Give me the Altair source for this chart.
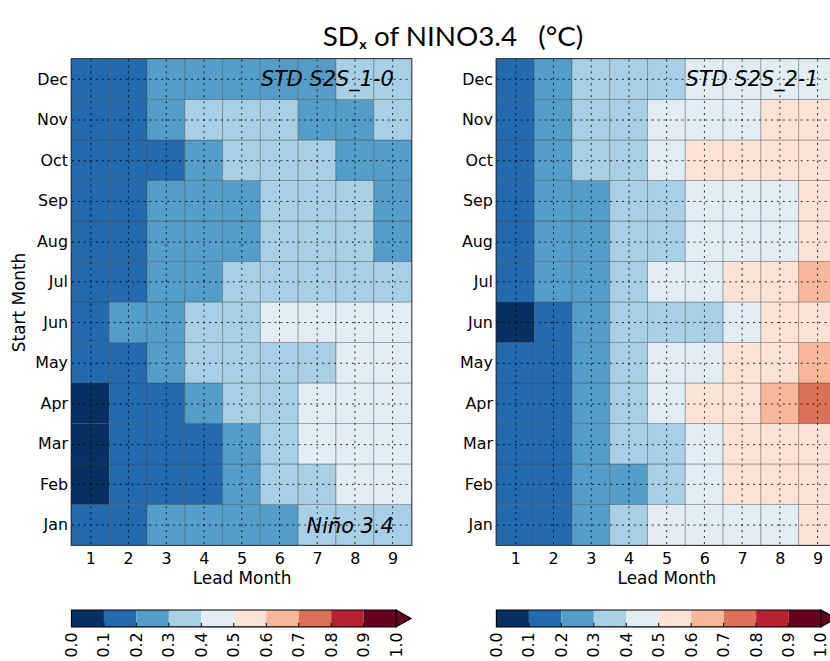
import altair as alt
import pandas as pd

# ---------------- data ----------------
months = ["Jan", "Feb", "Mar", "Apr", "May", "Jun", "Jul", "Aug", "Sep", "Oct", "Nov", "Dec"]
leads = [1, 2, 3, 4, 5, 6, 7, 8, 9]

# STD S2S_1-0 : rows Jan..Dec, columns lead 1..9
s2s_10_jan = [0.16, 0.18, 0.24, 0.26, 0.27, 0.29, 0.32, 0.33, 0.34]
s2s_10_feb = [0.08, 0.15, 0.17, 0.19, 0.25, 0.33, 0.37, 0.42, 0.43]
s2s_10_mar = [0.07, 0.14, 0.16, 0.19, 0.27, 0.36, 0.41, 0.43, 0.44]
s2s_10_apr = [0.09, 0.16, 0.19, 0.26, 0.34, 0.38, 0.41, 0.42, 0.43]
s2s_10_may = [0.14, 0.18, 0.25, 0.31, 0.33, 0.35, 0.37, 0.41, 0.42]
s2s_10_jun = [0.18, 0.23, 0.28, 0.32, 0.36, 0.41, 0.42, 0.43, 0.42]
s2s_10_jul = [0.15, 0.18, 0.24, 0.28, 0.32, 0.35, 0.36, 0.37, 0.36]
s2s_10_aug = [0.14, 0.17, 0.23, 0.26, 0.29, 0.32, 0.34, 0.33, 0.29]
s2s_10_sep = [0.14, 0.17, 0.23, 0.26, 0.28, 0.31, 0.33, 0.32, 0.28]
s2s_10_oct = [0.15, 0.17, 0.19, 0.25, 0.31, 0.33, 0.32, 0.28, 0.27]
s2s_10_nov = [0.16, 0.18, 0.23, 0.31, 0.32, 0.31, 0.29, 0.28, 0.31]
s2s_10_dec = [0.16, 0.18, 0.22, 0.25, 0.26, 0.27, 0.29, 0.31, 0.32]

# STD S2S_2-1 : rows Jan..Dec, columns lead 1..9
s2s_21_jan = [0.16, 0.19, 0.26, 0.35, 0.42, 0.44, 0.46, 0.47, 0.52]
s2s_21_feb = [0.15, 0.18, 0.25, 0.29, 0.36, 0.44, 0.52, 0.54, 0.55]
s2s_21_mar = [0.14, 0.18, 0.26, 0.33, 0.38, 0.45, 0.53, 0.56, 0.58]
s2s_21_apr = [0.14, 0.18, 0.27, 0.35, 0.43, 0.52, 0.57, 0.65, 0.74]
s2s_21_may = [0.15, 0.19, 0.27, 0.36, 0.44, 0.47, 0.53, 0.57, 0.63]
s2s_21_jun = [0.08, 0.17, 0.26, 0.34, 0.36, 0.38, 0.45, 0.53, 0.55]
s2s_21_jul = [0.17, 0.21, 0.28, 0.36, 0.43, 0.47, 0.53, 0.57, 0.62]
s2s_21_aug = [0.16, 0.22, 0.27, 0.33, 0.37, 0.42, 0.45, 0.48, 0.52]
s2s_21_sep = [0.16, 0.22, 0.28, 0.34, 0.38, 0.43, 0.46, 0.48, 0.53]
s2s_21_oct = [0.17, 0.23, 0.34, 0.37, 0.44, 0.53, 0.55, 0.56, 0.55]
s2s_21_nov = [0.16, 0.23, 0.33, 0.37, 0.43, 0.46, 0.48, 0.52, 0.54]
s2s_21_dec = [0.15, 0.22, 0.32, 0.36, 0.38, 0.42, 0.44, 0.46, 0.47]

# colour levels (RdBu_r, 10 discrete bins, extend max)
levels = [0.0, 0.1, 0.2, 0.3, 0.4, 0.5, 0.6, 0.7, 0.8, 0.9, 1.0]
level_colors = ["#053061", "#246aae", "#539dc8", "#a7d0e4", "#e1edf3",
                "#fae3d6", "#f7b799", "#dd7059", "#b72230", "#67001f"]

panel_10 = [s2s_10_jan, s2s_10_feb, s2s_10_mar, s2s_10_apr, s2s_10_may, s2s_10_jun,
            s2s_10_jul, s2s_10_aug, s2s_10_sep, s2s_10_oct, s2s_10_nov, s2s_10_dec]
panel_21 = [s2s_21_jan, s2s_21_feb, s2s_21_mar, s2s_21_apr, s2s_21_may, s2s_21_jun,
            s2s_21_jul, s2s_21_aug, s2s_21_sep, s2s_21_oct, s2s_21_nov, s2s_21_dec]

# ---------------- styling ----------------
PW, PH = 342.5, 489.5
FONT = "DejaVu Sans"
month_expr = "[" + ",".join("'%s'" % m for m in months) + "][datum.value - 1]"

color_scale = alt.Scale(type="threshold", domain=levels[1:-1], range=level_colors)


def long_frame(rows):
    recs = []
    for mi, row in enumerate(rows):
        for li, v in enumerate(row):
            recs.append({"month": mi + 1, "lead": leads[li], "value": v})
    return pd.DataFrame(recs)


def panel(rows, label, show_ytitle, show_nino):
    df = long_frame(rows)
    base = alt.Chart(df).transform_calculate(
        x0="datum.lead - 0.5", x1="datum.lead + 0.5",
        y0="datum.month - 0.5", y1="datum.month + 0.5")
    x_axis = alt.Axis(values=leads, grid=True, gridDash=[2, 4], gridColor="black",
                      gridOpacity=0.8, gridWidth=1, ticks=False, domain=False,
                      labelFont=FONT, labelFontSize=16, labelColor="black", labelPadding=6,
                      title="Lead Month", titleFont=FONT, titleFontSize=17,
                      titleFontWeight="normal", titleColor="black", titlePadding=4, zindex=1)
    y_kwargs = dict(values=list(range(1, 13)), labelExpr=month_expr, grid=True,
                    gridDash=[2, 4], gridColor="black", gridOpacity=0.8, gridWidth=1,
                    ticks=False, domain=False, labelFont=FONT, labelFontSize=16,
                    labelColor="black", labelPadding=4, zindex=1)
    if show_ytitle:
        y_axis = alt.Axis(title="Start Month", titleFont=FONT, titleFontSize=17,
                          titleFontWeight="normal", titleColor="black", titlePadding=6, **y_kwargs)
    else:
        y_axis = alt.Axis(title=None, **y_kwargs)
    rect = base.mark_rect(stroke="#444444", strokeWidth=0.6, strokeOpacity=0.6).encode(
        x=alt.X("x0:Q", scale=alt.Scale(domain=[0.5, 9.5], nice=False, zero=False), axis=x_axis),
        x2="x1:Q",
        y=alt.Y("y0:Q", scale=alt.Scale(domain=[0.5, 12.5], nice=False, zero=False), axis=y_axis),
        y2="y1:Q",
        color=alt.Color("value:Q", scale=color_scale, legend=None),
    )
    layers = [rect]
    lab = alt.Chart(pd.DataFrame({"t": [label]})).mark_text(
        font=FONT, fontStyle="italic", fontSize=21, align="right", baseline="alphabetic",
        color="black").encode(text="t:N", x=alt.value(PW - 18), y=alt.value(27))
    layers.append(lab)
    if show_nino:
        nino = alt.Chart(pd.DataFrame({"t": ["Niño 3.4"]})).mark_text(
            font=FONT, fontStyle="italic", fontSize=21, align="right", baseline="alphabetic",
            color="black").encode(text="t:N", x=alt.value(PW - 18), y=alt.value(477))
        layers.append(nino)
    return alt.layer(*layers).properties(width=PW, height=PH)


def colorbar():
    bins = pd.DataFrame({"lo": levels[:-1], "hi": levels[1:], "mid": [l + 0.05 for l in levels[:-1]]})
    top = levels[-1]
    ext = top + 0.046
    xs = alt.Scale(domain=[0, ext], nice=False, zero=False)
    cb_axis = alt.Axis(values=levels, format=".1f", labelAngle=270, labelAlign="right",
                       labelBaseline="middle", labelFont=FONT, labelFontSize=16,
                       labelColor="black", labelPadding=5, labelOverlap=False,
                       labelBound=False, labelFlush=False, ticks=False, domain=False,
                       grid=False, title=None)
    r = alt.Chart(bins).mark_rect().encode(
        x=alt.X("lo:Q", scale=xs, axis=cb_axis), x2="hi:Q",
        color=alt.Color("mid:Q", scale=color_scale, legend=None))
    outline = alt.Chart(pd.DataFrame({"a": [levels[0]], "b": [top]})).mark_rect(
        fill="transparent", stroke="black", strokeWidth=1.2).encode(
        x=alt.X("a:Q", scale=xs, axis=cb_axis), x2="b:Q")
    arrow_df = pd.DataFrame({"x": [top, ext], "y": [0.0, 0.5], "y2": [1.0, 0.5]})
    arrow = alt.Chart(arrow_df).mark_area(color=level_colors[-1], stroke="black",
                                          strokeWidth=1.2).encode(
        x=alt.X("x:Q", scale=xs, axis=cb_axis),
        y=alt.Y("y:Q", scale=alt.Scale(domain=[0, 1]), axis=None), y2="y2:Q")
    ticks = alt.Chart(pd.DataFrame({"v": levels[1:-1]})).mark_rule(color="black", strokeWidth=1).encode(
        x=alt.X("v:Q", scale=xs, axis=cb_axis), y=alt.value(17), y2=alt.value(13))
    return alt.layer(r, ticks, outline, arrow).properties(
        width=342, height=17, view=alt.ViewConfig(strokeOpacity=0))


left = alt.vconcat(panel(panel_10, "STD S2S_1-0", True, True), colorbar(),
                   spacing=65, bounds="flush")
right = alt.vconcat(panel(panel_21, "STD S2S_2-1", False, False), colorbar(),
                    spacing=65, bounds="flush")

SP = "\u00a0"
chart = alt.hconcat(left, right, spacing=45).properties(
    title=alt.Title("SDₓ of NINO3.4" + SP * 3 + "(°C)", font="Lato", fontSize=28,
                    fontWeight="normal", color="black", anchor="middle", offset=6, dx=29),
    padding={"left": 10, "top": 21, "right": -9, "bottom": 0},
).configure_view(stroke="black", strokeWidth=1.5)

chart.save("out.html", embed_options={"renderer": "svg", "actions": False})
